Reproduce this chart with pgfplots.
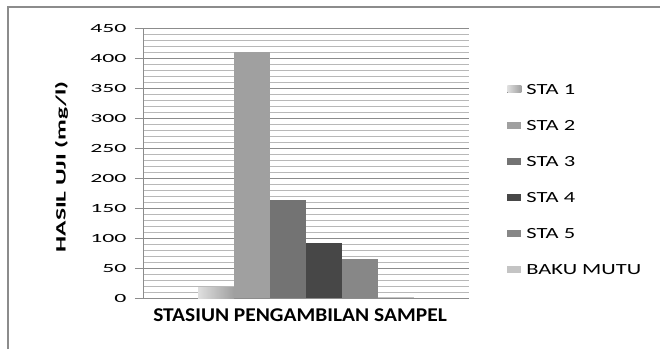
\documentclass[border=0pt]{standalone}
\usepackage{fontspec}
\setmainfont{Carlito}
\newfontfamily\tickfont{Carlito}[FakeStretch=1.9]
\newfontfamily\legfont{Carlito}[FakeStretch=1.45]
\newfontfamily\xfont{Carlito}[FakeStretch=1.1]
\usepackage{pgfplots}
\pgfplotsset{compat=1.18}
\definecolor{cA}{HTML}{A0A0A0}
\definecolor{cB}{HTML}{737373}
\definecolor{cC}{HTML}{474747}
\definecolor{cD}{HTML}{878787}
\definecolor{cE}{HTML}{C4C4C4}
\definecolor{gmaj}{HTML}{8C8C8C}
\definecolor{gmin}{HTML}{B8B8B8}
\begin{document}
\begin{tikzpicture}[x=1pt,y=1pt]
\useasboundingbox (0,0) rectangle (660,349);
\draw[gmaj, line width=1.3pt] (8,0) -- (8,342) -- (660,342);
\begin{axis}[
  at={(143pt,51pt)}, anchor=south west,
  scale only axis, width=326pt, height=270pt,
  xmin=-1, xmax=1, ymin=0, ymax=450,
  axis x line=bottom, axis y line=left,
  axis line style={gmaj, line width=0.8pt, -},
  ybar=0pt, bar width=36pt,
  xtick={0}, xticklabels={\xfont\bfseries STASIUN PENGAMBILAN SAMPEL},
  xticklabel style={font=\fontsize{19.5}{21}\selectfont, yshift=1pt, xshift=-6pt},
  x tick style={draw=none},
  ytick={0,50,...,450},
  yticklabel style={font=\tickfont\fontsize{12.5}{14}\selectfont, xshift=-5pt},
  /pgf/number format/assume math mode=true,
  minor y tick num=4,
  ymajorgrids, yminorgrids,
  major grid style={gmaj, line width=0.8pt},
  minor grid style={gmin, line width=0.6pt},
  major tick length=8pt, minor tick length=0pt,
  tick align=outside,
  y tick style={gmaj, line width=0.8pt},
  ylabel={\scalebox{1}[0.56]{\bfseries HASIL UJI (mg/l)}},
  ylabel style={font=\fontsize{25.5}{28}\selectfont, at={(axis description cs:-0.25,0.485)}, anchor=center},
  legend style={at={(axis description cs:1.117,0.8)}, anchor=north west, draw=none, fill=none,
    font=\legfont\fontsize{15.5}{17}\selectfont, row sep=20.5pt, inner sep=0pt,
    /tikz/every odd column/.append style={column sep=3pt}},
  legend cell align=left,
  legend image code/.code={\fill[#1, draw=none] (0pt,-3pt) rectangle (14pt,4pt);},
]
\addplot[draw=none, left color=gray!25, right color=gray!75] coordinates {(0,18)};
\addplot[draw=none, fill=cA] coordinates {(0,410)};
\addplot[draw=none, fill=cB] coordinates {(0,163)};
\addplot[draw=none, fill=cC] coordinates {(0,92)};
\addplot[draw=none, fill=cD] coordinates {(0,65)};
\addplot[draw=none, fill=cE] coordinates {(0,1.5)};
\legend{STA 1,STA 2,STA 3,STA 4,STA 5,BAKU MUTU}
\end{axis}
\end{tikzpicture}
\end{document}
